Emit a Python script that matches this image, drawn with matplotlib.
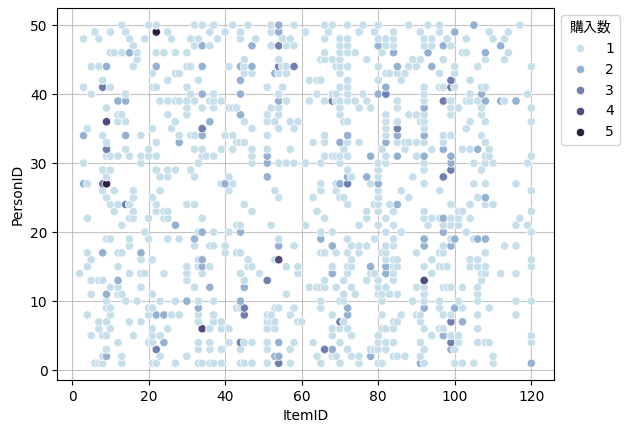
import pandas as pd
import matplotlib.pyplot as plt
import seaborn as sns

# purchased items per person (PersonID 1..50)
person_ids = list(range(1, 51))
items_per_person = [
    [6, 7, 8, 13, 21, 22, 27, 33, 34, 36, 37, 39, 44, 45, 47, 51, 54, 57, 65, 70, 75, 80, 81, 91, 92, 100, 102, 105, 110, 120],
    [8, 9, 13, 23, 30, 53, 54, 64, 68, 69, 73, 75, 78, 84, 85, 87, 91, 110],
    [9, 22, 33, 36, 39, 44, 51, 57, 66, 68, 72, 78, 79, 80, 82, 92, 99, 100],
    [12, 20, 21, 24, 33, 36, 41, 44, 45, 47, 51, 54, 58, 63, 70, 80, 82, 84, 91, 99, 101, 106, 108, 109, 120],
    [5, 8, 9, 16, 21, 23, 68, 73, 80, 94, 97, 99, 101, 120],
    [7, 10, 21, 25, 34, 36, 39, 41, 51, 53, 68, 70, 72, 81, 82, 84, 92, 96, 97, 106],
    [7, 9, 15, 18, 33, 37, 39, 51, 52, 53, 59, 60, 70, 71, 84, 85, 91, 99, 102],
    [4, 10, 20, 22, 24, 26, 28, 33, 37, 45, 51, 52, 57, 68, 72, 81, 86, 90, 91, 97, 99, 106, 116],
    [9, 10, 20, 21, 33, 43, 44, 45, 53, 54, 58, 65, 72, 92, 96, 100, 102, 109],
    [9, 14, 17, 23, 27, 30, 33, 37, 44, 65, 70, 71, 81, 89, 92, 96, 101, 106, 116, 120],
    [5, 9, 12, 13, 21, 56, 71, 74, 80, 81, 83, 85, 92, 106],
    [10, 12, 18, 32, 36, 45, 62, 64, 65, 66, 69, 73, 80, 82, 90, 92, 97, 98, 99, 102, 106],
    [5, 7, 8, 12, 30, 45, 51, 66, 71, 77, 80, 84, 92, 107],
    [2, 15, 18, 19, 24, 30, 34, 44, 49, 59, 68, 72, 78, 79, 82, 84, 94, 107, 108, 112, 116],
    [4, 12, 30, 33, 34, 36, 46, 47, 56, 59, 68, 72, 73, 78, 82, 84, 85, 92, 96, 97, 98, 104, 106, 108, 120],
    [5, 18, 21, 33, 34, 46, 53, 54, 73, 82, 84, 85, 94, 104, 106, 120],
    [4, 8, 12, 13, 18, 40, 43, 44, 65, 66, 69, 72, 75, 81, 82, 90, 96, 97, 108],
    [15, 32, 36, 37, 40, 54, 58, 68, 73, 75, 77, 82, 84, 92, 97, 99, 113, 116],
    [9, 10, 15, 20, 25, 28, 32, 54, 65, 72, 79, 84, 92, 99, 100, 105, 106, 108],
    [19, 33, 34, 37, 41, 44, 65, 68, 82, 86, 97, 103, 120],
    [13, 27, 43, 44, 52, 61, 75, 80, 84, 93, 97, 99, 101, 116, 119],
    [4, 15, 16, 20, 24, 25, 34, 66, 77, 82, 92, 94, 96, 97, 99, 101, 104, 117],
    [11, 16, 22, 24, 25, 47, 64, 77, 80, 84, 92, 101, 102, 120],
    [10, 12, 14, 15, 22, 30, 32, 45, 72, 79, 80, 83, 85, 99, 104, 108, 110],
    [9, 16, 21, 54, 63, 70, 71, 80, 88, 106, 108],
    [8, 11, 16, 23, 41, 53, 65, 69, 80, 86, 96, 120],
    [3, 4, 8, 9, 39, 40, 42, 65, 69, 70, 72, 78, 80, 92, 105, 108, 116],
    [9, 23, 25, 32, 41, 51, 72, 73, 77, 80, 89, 97],
    [8, 10, 22, 25, 27, 31, 72, 80, 92, 99, 107],
    [3, 18, 33, 47, 51, 54, 56, 58, 61, 65, 70, 80, 82, 92, 99, 105, 108, 110, 119],
    [9, 10, 12, 15, 18, 20, 22, 34, 35, 37, 47, 51, 66, 68, 69, 70, 72, 78, 82, 85, 90, 92, 99, 108, 109, 120],
    [9, 14, 20, 32, 34, 39, 42, 47, 51, 57, 71, 81, 87, 94, 97, 102, 104, 106, 109],
    [9, 22, 28, 43, 44, 45, 63, 66, 70, 72, 75, 82, 85, 87, 88, 90, 92, 97, 108],
    [3, 8, 14, 18, 28, 31, 32, 34, 40, 42, 51, 66, 72, 82, 85, 92, 97, 99, 107],
    [4, 21, 26, 34, 47, 54, 58, 82, 85, 92, 103],
    [9, 12, 14, 27, 36, 45, 51, 53, 57, 59, 71, 72, 82, 85, 91, 92, 104, 108, 120],
    [12, 13, 25, 30, 44, 51, 54, 70, 82, 88, 90, 92, 99, 107],
    [9, 30, 34, 37, 41, 42, 43, 52, 54, 70, 75, 78, 85, 92, 99, 101, 107, 120],
    [12, 14, 23, 25, 27, 28, 30, 32, 36, 37, 39, 54, 56, 62, 66, 68, 69, 70, 72, 74, 77, 85, 92, 97, 99, 103, 104, 106, 108, 112, 113, 116],
    [5, 14, 31, 34, 37, 44, 54, 64, 68, 69, 72, 76, 80, 82, 92, 104, 107, 119],
    [3, 8, 10, 21, 22, 30, 51, 55, 70, 72, 82, 92, 96, 97, 99, 100, 107, 108],
    [8, 25, 33, 44, 62, 64, 65, 72, 80, 86, 99, 104],
    [21, 27, 28, 45, 47, 53, 54, 56, 70, 82, 83, 85, 87, 96, 100],
    [5, 7, 9, 16, 22, 30, 31, 34, 41, 44, 45, 47, 54, 55, 56, 58, 69, 70, 72, 80, 85, 88, 90, 94, 100, 106, 120],
    [17, 45, 54, 65, 66, 68, 70, 77, 89, 91, 97, 108, 113],
    [10, 11, 13, 15, 17, 22, 24, 27, 30, 66, 70, 72, 74, 81, 84, 93, 102, 103, 108, 114],
    [16, 32, 34, 36, 47, 52, 54, 56, 58, 70, 72, 80, 82, 84, 92, 94, 97, 99, 112],
    [3, 7, 15, 19, 26, 31, 33, 38, 44, 48, 55, 57, 66, 70, 72, 80, 82, 84, 92, 94, 98, 103, 110, 113],
    [6, 10, 14, 22, 25, 36, 40, 44, 52, 54, 61, 67, 75, 79, 84, 91, 96, 100, 109, 114],
    [13, 20, 22, 32, 34, 37, 42, 46, 52, 54, 58, 66, 68, 72, 76, 80, 88, 93, 96, 105, 117],
]

# (PersonID, ItemID, count) for pairs bought more than once
repeat_buys = [
    (50, 54, 2), (50, 105, 2), (49, 22, 5), (49, 54, 2), (49, 100, 2),
    (47, 34, 2), (47, 47, 2), (47, 54, 3), (47, 80, 2), (47, 97, 2), (47, 112, 2),
    (46, 15, 2), (46, 84, 2), (46, 93, 2), (46, 108, 2),
    (44, 9, 2), (44, 22, 2), (44, 34, 2), (44, 44, 2), (44, 47, 2), (44, 54, 3),
    (44, 58, 3), (44, 85, 2), (44, 94, 2),
    (43, 53, 2), (42, 44, 2), (42, 99, 3), (41, 8, 3), (41, 82, 2), (41, 99, 3),
    (40, 34, 2), (40, 44, 2), (40, 80, 2), (40, 82, 3), (40, 107, 2),
    (39, 12, 2), (39, 14, 2), (39, 54, 2), (39, 68, 3), (39, 97, 3), (39, 108, 2),
    (39, 112, 2), (39, 116, 2),
    (38, 92, 2), (37, 44, 2), (36, 9, 4), (36, 36, 2), (35, 34, 3), (35, 85, 3),
    (34, 3, 2), (34, 14, 2), (34, 34, 2), (34, 72, 2), (34, 85, 2), (34, 92, 2),
    (33, 28, 2), (33, 70, 2), (33, 82, 2), (32, 9, 3), (32, 97, 2), (32, 106, 2),
    (31, 51, 2), (31, 78, 2), (31, 85, 2), (31, 92, 2), (31, 99, 2),
    (30, 51, 2), (30, 99, 2), (29, 99, 3),
    (28, 51, 2), (28, 72, 2), (28, 77, 2), (28, 97, 3),
    (27, 3, 2), (27, 8, 3), (27, 9, 5), (27, 40, 2), (27, 70, 2), (27, 72, 3), (27, 80, 2),
    (25, 108, 2), (24, 14, 3), (24, 85, 2), (22, 97, 2), (21, 27, 2),
    (20, 34, 2), (20, 44, 2), (20, 97, 2),
    (19, 32, 2), (19, 65, 2), (19, 92, 2), (19, 100, 2), (19, 106, 2), (19, 108, 2),
    (18, 54, 2), (18, 68, 2), (18, 92, 2), (18, 99, 2),
    (17, 8, 2), (17, 18, 2), (16, 34, 2), (16, 54, 4),
    (15, 34, 2), (15, 78, 2), (15, 82, 2), (14, 68, 2), (14, 82, 2),
    (13, 12, 2), (13, 51, 3), (13, 92, 4), (12, 36, 2), (12, 45, 2), (11, 9, 2),
    (10, 30, 2), (10, 44, 2),
    (9, 33, 2), (9, 45, 3), (9, 72, 2), (9, 92, 2), (9, 100, 2),
    (8, 22, 2), (8, 24, 2), (8, 45, 3), (8, 72, 2),
    (7, 70, 3), (7, 99, 3), (7, 102, 2), (6, 34, 4), (5, 97, 2),
    (4, 24, 2), (4, 44, 3), (4, 54, 2), (4, 99, 3),
    (3, 22, 3), (3, 66, 3), (3, 68, 2), (3, 99, 2),
    (2, 9, 2), (2, 53, 2), (2, 54, 2), (2, 78, 2),
    (1, 54, 3), (1, 91, 2), (1, 120, 2),
]

repeats = {(p, i): c for p, i, c in repeat_buys}
records = []
for p, items in zip(person_ids, items_per_person):
    for i in items:
        records.append({'PersonID': p, 'ItemID': i, '購入数': repeats.get((p, i), 1)})
df = pd.DataFrame(records).sort_values(['PersonID', 'ItemID'])

plt.rcParams['font.family'] = ['DejaVu Sans', 'Noto Sans CJK JP']

fig, ax = plt.subplots(figsize=(6.28, 4.32), dpi=100)
sns.scatterplot(data=df, x='ItemID', y='PersonID', hue='購入数',
                palette='ch:s=.25,rot=-.25', ax=ax)
ax.grid(True, color='#b0b0b0', linewidth=0.8, alpha=0.75)
ax.set_axisbelow(True)
sns.move_legend(ax, 'upper left', bbox_to_anchor=(1, 1))
fig.subplots_adjust(left=0.091, right=0.882, bottom=0.12, top=0.981)
fig.savefig('out.png')
